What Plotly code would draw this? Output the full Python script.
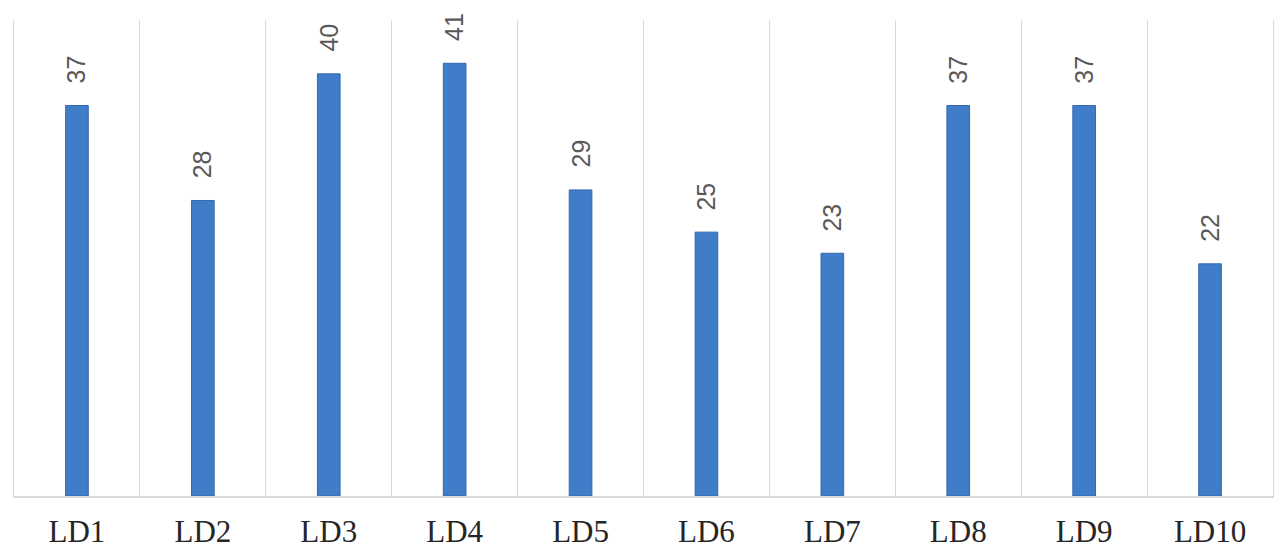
import plotly.graph_objects as go

categories = ["LD1", "LD2", "LD3", "LD4", "LD5", "LD6", "LD7", "LD8", "LD9", "LD10"]
values = [37, 28, 40, 41, 29, 25, 23, 37, 37, 22]

fig = go.Figure()
fig.add_trace(go.Bar(
    x=categories, y=values, width=0.18,
    marker=dict(color="#3F7DC8", line=dict(color="#3569AE", width=1)),
))

for c, v in zip(categories, values):
    fig.add_annotation(
        x=c, y=v, text=str(v), textangle=-90, showarrow=False,
        yanchor="bottom", xanchor="center", yshift=20,
        font=dict(family="Liberation Sans, Arial, sans-serif", size=25, color="#595959"),
    )

fig.update_layout(
    width=1283, height=551,
    margin=dict(l=14, r=10, t=20, b=55),
    paper_bgcolor="white", plot_bgcolor="white",
    showlegend=False,
    xaxis=dict(
        type="category", tickson="boundaries", showgrid=True, gridcolor="#D9D9D9", gridwidth=1,
        showline=True, linecolor="#D9D9D9", linewidth=1.5, ticks="", automargin=False,
        tickfont=dict(family="Liberation Serif, Times New Roman, serif", size=31, color="#262626"),
        ticklabelstandoff=7,
    ),
    yaxis=dict(
        range=[0, 45.1], showgrid=False, showticklabels=False, zeroline=False, automargin=False,
        showline=True, mirror=True, linecolor="#D9D9D9", linewidth=1, ticks="",
    ),
)

fig.write_html("out.html")
